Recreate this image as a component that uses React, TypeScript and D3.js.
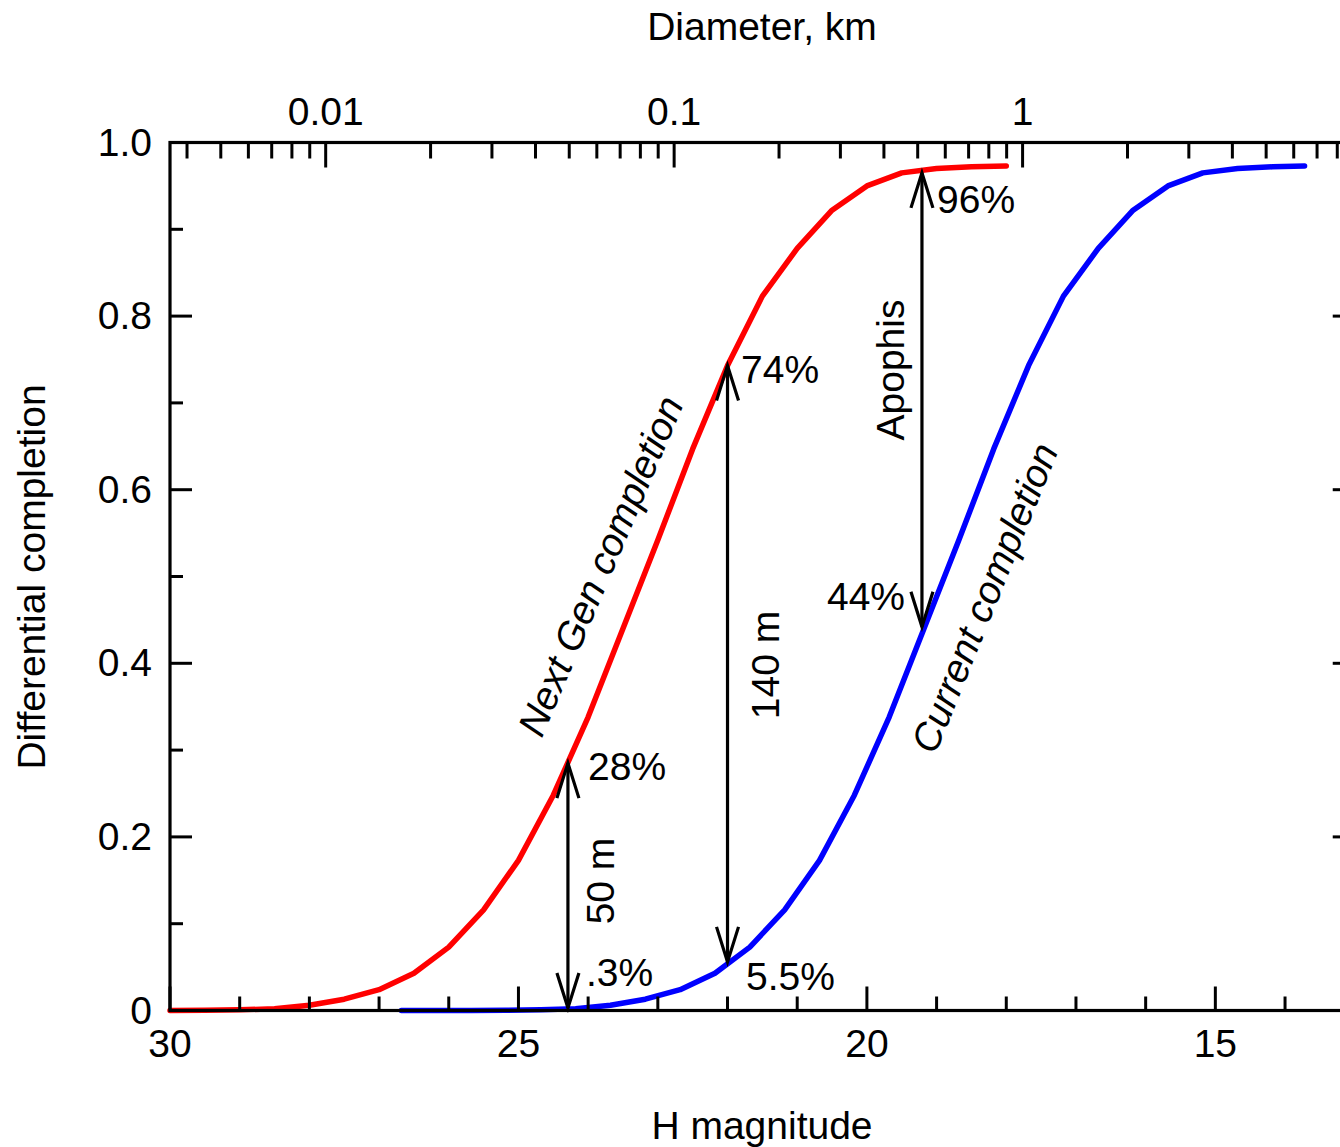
import React from "react";
import * as d3 from "d3";

// ---- Data ----
const nextGenH = [30, 29.5, 29, 28.5, 28, 27.5, 27, 26.5, 26, 25.5, 25, 24.5, 24, 23.5, 23, 22.5, 22, 21.5, 21, 20.5, 20, 19.5, 19, 18.5, 18];
const nextGenC = [0, 0.0003, 0.0008, 0.002, 0.006, 0.013, 0.024, 0.043, 0.073, 0.116, 0.173, 0.248, 0.338, 0.44, 0.542, 0.647, 0.743, 0.823, 0.878, 0.922, 0.95, 0.965, 0.97, 0.972, 0.973];

const currentH = [26.68, 26.18, 25.68, 25.18, 24.68, 24.18, 23.68, 23.18, 22.68, 22.18, 21.68, 21.18, 20.68, 20.18, 19.68, 19.18, 18.68, 18.18, 17.68, 17.18, 16.68, 16.18, 15.68, 15.18, 14.68, 14.18, 13.72];
const currentC = [0, 0, 0, 0.0003, 0.0008, 0.002, 0.006, 0.013, 0.024, 0.043, 0.073, 0.116, 0.173, 0.248, 0.338, 0.44, 0.542, 0.647, 0.743, 0.823, 0.878, 0.922, 0.95, 0.965, 0.97, 0.972, 0.973];

const bottomMajor = [30, 25, 20, 15];
const bottomMinor = [29, 28, 27, 26, 24, 23, 22, 21, 19, 18, 17, 16, 14];
const yMajor = [0, 0.2, 0.4, 0.6, 0.8, 1.0];
const yMajorLabels = ["0", "0.2", "0.4", "0.6", "0.8", "1.0"];
const yMinor = [0.1, 0.3, 0.5, 0.7, 0.9];
const diamMajor = [0.01, 0.1, 1];
const diamMajorLabels = ["0.01", "0.1", "1"];
const diamMinor = [0.004, 0.005, 0.006, 0.007, 0.008, 0.009, 0.02, 0.03, 0.04, 0.05, 0.06, 0.07, 0.08, 0.09, 0.2, 0.3, 0.4, 0.5, 0.6, 0.7, 0.8, 0.9, 2, 3, 4, 5, 6, 7, 8];
const H_AT_1KM = 17.766;

// Annotation arrows: H position, bottom value, top value
const arrowH = [24.29, 22.0, 19.21];
const arrowLow = [0.003, 0.056, 0.442];
const arrowHigh = [0.285, 0.743, 0.965];

const FONT = "'Liberation Sans', Arial, Helvetica, sans-serif";
const FS = 39;

export default function App() {
  const W = 1340, H = 1147;
  const x = d3.scaleLinear().domain([30, 13]).range([170, 170 + 17 * 69.69]);
  const y = d3.scaleLinear().domain([0, 1]).range([1010.5, 142.5]);
  const xD = (d: number) => x(H_AT_1KM - 5 * Math.log10(d));
  const line = d3.line<[number, number]>().x(d => x(d[0])).y(d => y(d[1]));
  const redPts = nextGenH.map((h, i) => [h, nextGenC[i]] as [number, number]);
  const bluePts = currentH.map((h, i) => [h, currentC[i]] as [number, number]);
  const x0 = x(30), x1 = x(13), yT = y(1), yB = y(0);
  const tw = 3;
  const arrowHead = (cx: number, cy: number, dir: number) =>
    `M${cx - 11},${cy + dir * 35}L${cx},${cy}L${cx + 11},${cy + dir * 35}`;

  return (
    <div style={{ position: "absolute", left: 0, top: 0 }}>
      <svg width={W} height={H} style={{ display: "block", background: "#fff" }} fontFamily={FONT}>
        <rect x={0} y={0} width={W} height={H} fill="#fff" />
        {/* curves */}
        <path d={line(redPts) || ""} fill="none" stroke="#ff0000" strokeWidth={5.5} strokeLinejoin="round" strokeLinecap="round" />
        <path d={line(bluePts) || ""} fill="none" stroke="#0000ff" strokeWidth={5.5} strokeLinejoin="round" strokeLinecap="round" />

        {/* frame */}
        <rect x={x0} y={yT} width={x1 - x0} height={yB - yT} fill="none" stroke="#000" strokeWidth={3.2} />

        {/* bottom ticks */}
        {bottomMajor.map(v => (
          <g key={"bm" + v}>
            <line x1={x(v)} x2={x(v)} y1={yB} y2={yB - 24} stroke="#000" strokeWidth={tw} />
            <text x={x(v)} y={1057} textAnchor="middle" fontSize={FS}>{v}</text>
          </g>
        ))}
        {bottomMinor.map(v => (
          <line key={"bn" + v} x1={x(v)} x2={x(v)} y1={yB} y2={yB - 14} stroke="#000" strokeWidth={tw} />
        ))}

        {/* top ticks */}
        {diamMajor.map((d, i) => (
          <g key={"tm" + d}>
            <line x1={xD(d)} x2={xD(d)} y1={yT} y2={yT + 25} stroke="#000" strokeWidth={tw} />
            <text x={xD(d)} y={125} textAnchor="middle" fontSize={FS}>{diamMajorLabels[i]}</text>
          </g>
        ))}
        {diamMinor.filter(d => xD(d) > x0 + 2 && xD(d) < x1 - 2).map(d => (
          <line key={"tn" + d} x1={xD(d)} x2={xD(d)} y1={yT} y2={yT + 16} stroke="#000" strokeWidth={tw} />
        ))}

        {/* left / right ticks */}
        {yMajor.map((v, i) => (
          <g key={"ym" + v}>
            <line x1={x0} x2={x0 + 22} y1={y(v)} y2={y(v)} stroke="#000" strokeWidth={tw} />
            <line x1={x1} x2={x1 - 22} y1={y(v)} y2={y(v)} stroke="#000" strokeWidth={tw} />
            <text x={152} y={y(v) + 13} textAnchor="end" fontSize={FS}>{yMajorLabels[i]}</text>
          </g>
        ))}
        {yMinor.map(v => (
          <g key={"yn" + v}>
            <line x1={x0} x2={x0 + 13} y1={y(v)} y2={y(v)} stroke="#000" strokeWidth={tw} />
            <line x1={x1} x2={x1 - 13} y1={y(v)} y2={y(v)} stroke="#000" strokeWidth={tw} />
          </g>
        ))}

        {/* axis titles */}
        <text x={762} y={40} textAnchor="middle" fontSize={FS}>Diameter, km</text>
        <text x={762} y={1139} textAnchor="middle" fontSize={FS}>H magnitude</text>
        <text transform={`translate(45,577) rotate(-90)`} textAnchor="middle" fontSize={FS}>Differential completion</text>

        {/* arrows */}
        {arrowH.map((h, i) => {
          const ax = x(h), ylo = y(arrowLow[i]), yhi = y(arrowHigh[i]);
          return (
            <g key={"ar" + i} fill="none" stroke="#000" strokeWidth={3.2}>
              <line x1={ax} x2={ax} y1={ylo} y2={yhi} />
              <path d={arrowHead(ax, yhi, 1)} />
              <path d={arrowHead(ax, ylo, -1)} />
            </g>
          );
        })}

        {/* annotation labels */}
        <text x={588} y={780} fontSize={FS}>28%</text>
        <text x={586} y={986} fontSize={FS}>.3%</text>
        <text x={746} y={990} fontSize={FS}>5.5%</text>
        <text x={741} y={383} fontSize={FS}>74%</text>
        <text x={937} y={213} fontSize={FS}>96%</text>
        <text x={905} y={610} textAnchor="end" fontSize={FS}>44%</text>
        <text transform={`translate(614,881) rotate(-90)`} textAnchor="middle" fontSize={FS}>50 m</text>
        <text transform={`translate(779,665) rotate(-90)`} textAnchor="middle" fontSize={FS}>140 m</text>
        <text transform={`translate(904,370) rotate(-90)`} textAnchor="middle" fontSize={FS}>Apophis</text>
        <text transform={`translate(601,566) rotate(-67)`} y={13} textAnchor="middle" fontSize={FS} fontStyle="italic">Next Gen completion</text>
        <text transform={`translate(985,598) rotate(-68)`} y={13} textAnchor="middle" fontSize={FS} fontStyle="italic">Current completion</text>
      </svg>
    </div>
  );
}
